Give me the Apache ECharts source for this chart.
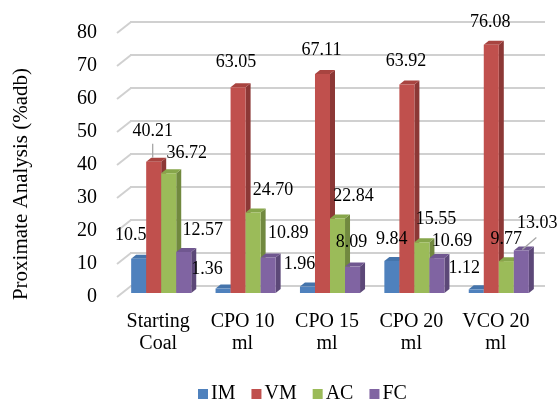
<!DOCTYPE html>
<html>
<head>
<meta charset="utf-8">
<script src="https://cdn.jsdelivr.net/npm/echarts@6/dist/echarts.min.js"></script>
<style>html,body{margin:0;padding:0;background:#fff}#c{width:560px;height:401px}</style>
</head>
<body>
<div id="c"></div>
<script>
var categories = ['Starting\nCoal', 'CPO 10\nml', 'CPO 15\nml', 'CPO 20\nml', 'VCO 20\nml'];
var seriesNames = ['IM', 'VM', 'AC', 'FC'];
var IM = [10.5, 1.36, 1.96, 9.84, 1.12];
var VM = [40.21, 63.05, 67.11, 63.92, 76.08];
var AC = [36.72, 24.70, 22.84, 15.55, 9.77];
var FC = [12.57, 10.89, 8.09, 10.69, 13.03];
var IMlabels = ['10.5', '1.36', '1.96', '9.84', '1.12'];
var VMlabels = ['40.21', '63.05', '67.11', '63.92', '76.08'];
var AClabels = ['36.72', '24.70', '22.84', '15.55', '9.77'];
var FClabels = ['12.57', '10.89', '8.09', '10.69', '13.03'];
var yTicks = [0, 10, 20, 30, 40, 50, 60, 70, 80];
var yTitle = 'Proximate Analysis (%adb)';

// label placement offsets (styling), relative to the bar's top-front centre
var labelOffsets = [
  [[-8,-23],[-16,-19],[-8,-22],[0,-22],[-12,-21]],
  [[-1,-31],[-2,-25],[-1,-24],[-1,-23],[-1,-23]],
  [[18,-20],[20,-22],[16,-22],[14,-23],[0,-22]],
  [[19,-22],[20,-24],[-1,-24],[15,-17],[16,-27]]
];
var leaders = {'1_0': [-1, -18, -1, -4], '3_4': [1, -1, 15, -13]};

var front = ['#4F81BD', '#C0504D', '#9BBB59', '#8064A2'];
var side = ['#3A6290', '#8C3836', '#71893F', '#5C4878'];
var topc = ['#4574AB', '#A84440', '#87A64B', '#705790'];

var values = [IM, VM, AC, FC];
var labels = [IMlabels, VMlabels, AClabels, FClabels];
var FONT = 'Liberation Serif';

function makeSeries(si) {
  return {
    type: 'custom', name: seriesNames[si], xAxisIndex: 0, yAxisIndex: 0,
    itemStyle: {color: front[si]},
    data: values[si].map(function (v, i) { return [i, v]; }),
    renderItem: function (params, api) {
      var ci = api.value(0), v = api.value(1);
      var band = api.size([1, 0])[0];
      var bw = band * 0.178;
      var c = api.coord([ci, v]);
      var b = api.coord([ci, 0]);
      var x0 = c[0] - 2 * bw + si * bw - 1;
      var x1 = x0 + bw;
      var yt = c[1], yb = b[1];
      var dx = 5, dy = 4;
      var off = labelOffsets[si][ci];
      var cx = (x0 + x1) / 2;
      var children = [
        {type: 'polygon', shape: {points: [[x1, yt], [x1 + dx, yt - dy], [x1 + dx, yb - dy], [x1, yb]]}, style: {fill: side[si]}},
        {type: 'polygon', shape: {points: [[x0, yt], [x0 + dx, yt - dy], [x1 + dx, yt - dy], [x1, yt]]}, style: {fill: topc[si]}},
        {type: 'rect', shape: {x: x0, y: yt, width: bw, height: yb - yt}, style: {fill: front[si]}},
        {type: 'text', style: {text: labels[si][ci], x: cx + off[0], y: yt + off[1], align: 'center', verticalAlign: 'middle', font: '18px "' + FONT + '"', fill: '#000'}, z2: 10}
      ];
      var ld = leaders[si + '_' + ci];
      if (ld) {
        children.push({type: 'line', shape: {x1: cx + ld[0], y1: yt + ld[1], x2: cx + ld[2], y2: yt + ld[3]}, style: {stroke: '#a6a6a6', lineWidth: 1.3}});
      }
      return {type: 'group', children: children};
    }
  };
}

var series = [0, 1, 2, 3].map(makeSeries);
// back wall gridlines' diagonal side segments
series.push({
  type: 'custom', name: 'walls', xAxisIndex: 1, yAxisIndex: 1, silent: true,
  data: yTicks.map(function (t) { return [0, t]; }),
  renderItem: function (params, api) {
    var p = api.coord([0, api.value(1)]);
    return {type: 'line', shape: {x1: p[0] + 1, y1: p[1], x2: p[0] - 13, y2: p[1] + 11}, style: {stroke: '#d0d0d0', lineWidth: 2}};
  },
  z: 0
});

var chart = echarts.init(document.getElementById('c'));
chart.setOption({
  animation: false,
  textStyle: {fontFamily: FONT},
  grid: [
    {left: 120, right: 18, top: 32, bottom: 108},
    {left: 130, right: 15, top: 22, bottom: 115},
    {left: 117, right: 20, top: 33, bottom: 104}
  ],
  graphic: [{
    type: 'text', rotation: Math.PI / 2,
    x: 21, y: 184, style: {text: yTitle, font: '21px "' + FONT + '"', fill: '#000', align: 'center', verticalAlign: 'middle'}
  }],
  legend: {
    data: seriesNames, left: 193, top: 379, itemWidth: 10, itemHeight: 10, itemGap: 16,
    icon: 'rect', textStyle: {fontSize: 20, fontFamily: FONT, color: '#000', padding: [0, 0, 0, -2]}
  },
  xAxis: [
    {type: 'category', gridIndex: 0, data: categories, axisLine: {show: false}, axisTick: {show: false},
     axisLabel: {interval: 0, fontSize: 20, fontFamily: FONT, color: '#000', lineHeight: 22, margin: 18, padding: [0, 8, 0, 0]}},
    {type: 'value', gridIndex: 1, min: 0, max: 1, show: false},
    {type: 'value', gridIndex: 2, min: 0, max: 1, show: false}
  ],
  yAxis: [
    {type: 'value', gridIndex: 0, min: 0, max: 80, interval: 10, show: false},
    {type: 'value', gridIndex: 1, min: 0, max: 80, interval: 10, axisLabel: {show: false}, axisLine: {show: false}, axisTick: {show: false},
     splitLine: {show: true, lineStyle: {color: '#d0d0d0', width: 2}}},
    {type: 'value', gridIndex: 2, min: 0, max: 80, interval: 10, axisLine: {show: false}, axisTick: {show: false}, splitLine: {show: false},
     axisLabel: {fontSize: 20, fontFamily: FONT, color: '#000', margin: 20}}
  ],
  series: series
});
</script>
</body>
</html>
